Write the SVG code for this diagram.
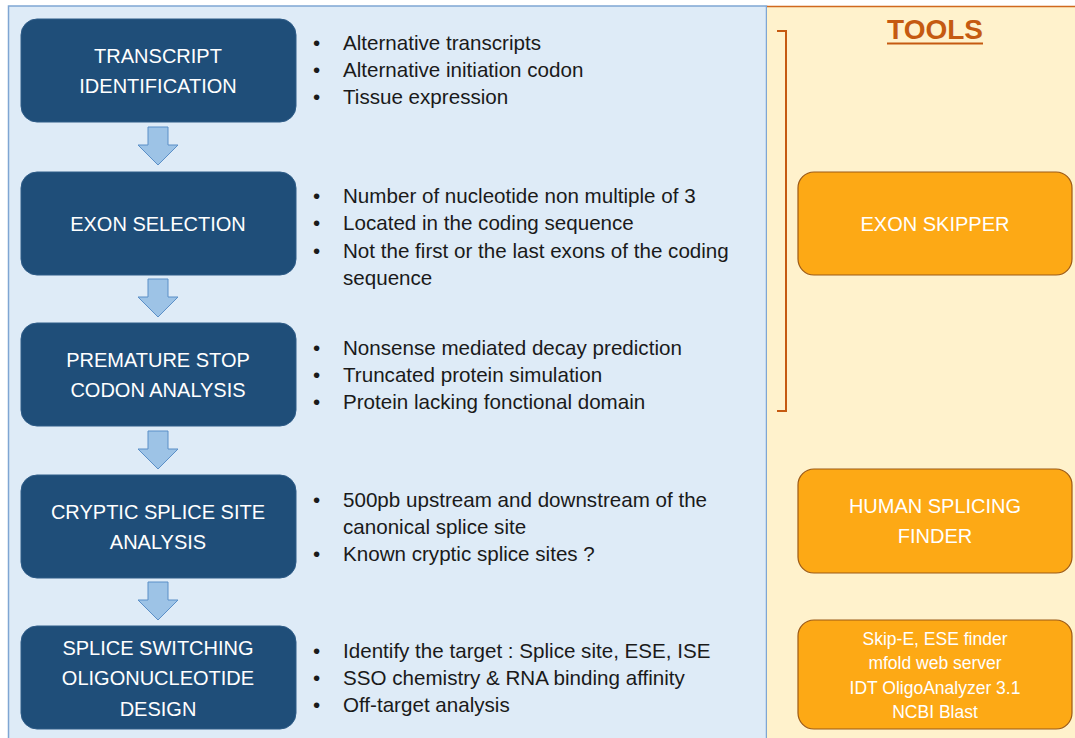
<svg xmlns="http://www.w3.org/2000/svg" width="1075" height="738" viewBox="0 0 1075 738">
<defs>
<style>
.panelL{fill:#DEEBF7;stroke:#7FA6D3;stroke-width:1.5}
.panelR{fill:#FFF2CC}
.step rect{fill:#1F4E79;stroke:#2E5C88;stroke-width:1}
.step text{fill:#FFFFFF;font-family:"Liberation Sans",Arial,sans-serif;font-size:20px;text-anchor:middle}
.bul text{fill:#1A1A1A;font-family:"Liberation Sans",Arial,sans-serif;font-size:20.6px}
.tool rect{fill:#FDA915;stroke:#9C5A16;stroke-width:1.2}
.tool text{fill:#FFFFFF;font-family:"Liberation Sans",Arial,sans-serif;font-size:20px;text-anchor:middle}
.tool text.sm{font-size:17.5px}
.arr{fill:#9DC3E6;stroke:#5B8FC7;stroke-width:1}
</style>
<path id="dn" d="M-10,0 H10 V18 H20 L0,38 L-20,18 H-10 Z"/>
</defs>

<rect class="panelL" x="8.5" y="6" width="758" height="740"/>
<rect class="panelR" x="767" y="6" width="310" height="740"/>
<line x1="767" y1="6.5" x2="1075" y2="6.5" stroke="#D0691E" stroke-width="1.5"/>

<g id="connectors">
<use href="#dn" class="arr" x="158" y="127"/>
<use href="#dn" class="arr" x="158" y="279"/>
<use href="#dn" class="arr" x="158" y="431"/>
<use href="#dn" class="arr" x="158" y="582"/>
</g>

<g id="step1" class="step">
<rect x="21" y="19" width="275" height="103" rx="16"/>
<text x="158" y="63">TRANSCRIPT</text>
<text x="158" y="93">IDENTIFICATION</text>
</g>
<g id="step2" class="step">
<rect x="21" y="172" width="275" height="103" rx="16"/>
<text x="158" y="231">EXON SELECTION</text>
</g>
<g id="step3" class="step">
<rect x="21" y="323" width="275" height="103" rx="16"/>
<text x="158" y="367">PREMATURE STOP</text>
<text x="158" y="397">CODON ANALYSIS</text>
</g>
<g id="step4" class="step">
<rect x="21" y="475" width="275" height="103" rx="16"/>
<text x="158" y="519">CRYPTIC SPLICE SITE</text>
<text x="158" y="549">ANALYSIS</text>
</g>
<g id="step5" class="step">
<rect x="21" y="626" width="275" height="103" rx="16"/>
<text x="158" y="655">SPLICE SWITCHING</text>
<text x="158" y="685">OLIGONUCLEOTIDE</text>
<text x="158" y="716">DESIGN</text>
</g>

<g id="bullets1" class="bul">
<text x="313" y="50">•</text><text x="343" y="50">Alternative transcripts</text>
<text x="313" y="77">•</text><text x="343" y="77">Alternative initiation codon</text>
<text x="313" y="104">•</text><text x="343" y="104">Tissue expression</text>
</g>
<g id="bullets2" class="bul">
<text x="313" y="203">•</text><text x="343" y="203">Number of nucleotide non multiple of 3</text>
<text x="313" y="230">•</text><text x="343" y="230">Located in the coding sequence</text>
<text x="313" y="258">•</text><text x="343" y="258">Not the first or the last exons of the coding</text>
<text x="343" y="285">sequence</text>
</g>
<g id="bullets3" class="bul">
<text x="313" y="355">•</text><text x="343" y="355">Nonsense mediated decay prediction</text>
<text x="313" y="382">•</text><text x="343" y="382">Truncated protein simulation</text>
<text x="313" y="409">•</text><text x="343" y="409">Protein lacking fonctional domain</text>
</g>
<g id="bullets4" class="bul">
<text x="313" y="507">•</text><text x="343" y="507">500pb upstream and downstream of the</text>
<text x="343" y="534">canonical splice site</text>
<text x="313" y="561">•</text><text x="343" y="561">Known cryptic splice sites ?</text>
</g>
<g id="bullets5" class="bul">
<text x="313" y="658">•</text><text x="343" y="658">Identify the target : Splice site, ESE, ISE</text>
<text x="313" y="685">•</text><text x="343" y="685">SSO chemistry &amp; RNA binding affinity</text>
<text x="313" y="712">•</text><text x="343" y="712">Off-target analysis</text>
</g>

<g id="tools-title">
<text x="935" y="39" fill="#C55A11" font-family="Liberation Sans,Arial,sans-serif" font-size="28" font-weight="bold" text-anchor="middle">TOOLS</text>
<line x1="887" y1="43.5" x2="983" y2="43.5" stroke="#C55A11" stroke-width="2"/>
</g>
<path id="bracket" d="M777,31 H786 V411 H777" fill="none" stroke="#C55A11" stroke-width="2"/>

<g id="tool1" class="tool">
<rect x="798" y="172" width="274" height="103" rx="16"/>
<text x="935" y="231">EXON SKIPPER</text>
</g>
<g id="tool2" class="tool">
<rect x="798" y="469" width="274" height="104" rx="16"/>
<text x="935" y="513">HUMAN SPLICING</text>
<text x="935" y="543">FINDER</text>
</g>
<g id="tool3" class="tool">
<rect x="798" y="620" width="274" height="109" rx="16"/>
<text class="sm" x="935" y="645">Skip-E, ESE finder</text>
<text class="sm" x="935" y="669">mfold web server</text>
<text class="sm" x="935" y="694">IDT OligoAnalyzer 3.1</text>
<text class="sm" x="935" y="718">NCBI Blast</text>
</g>
</svg>
